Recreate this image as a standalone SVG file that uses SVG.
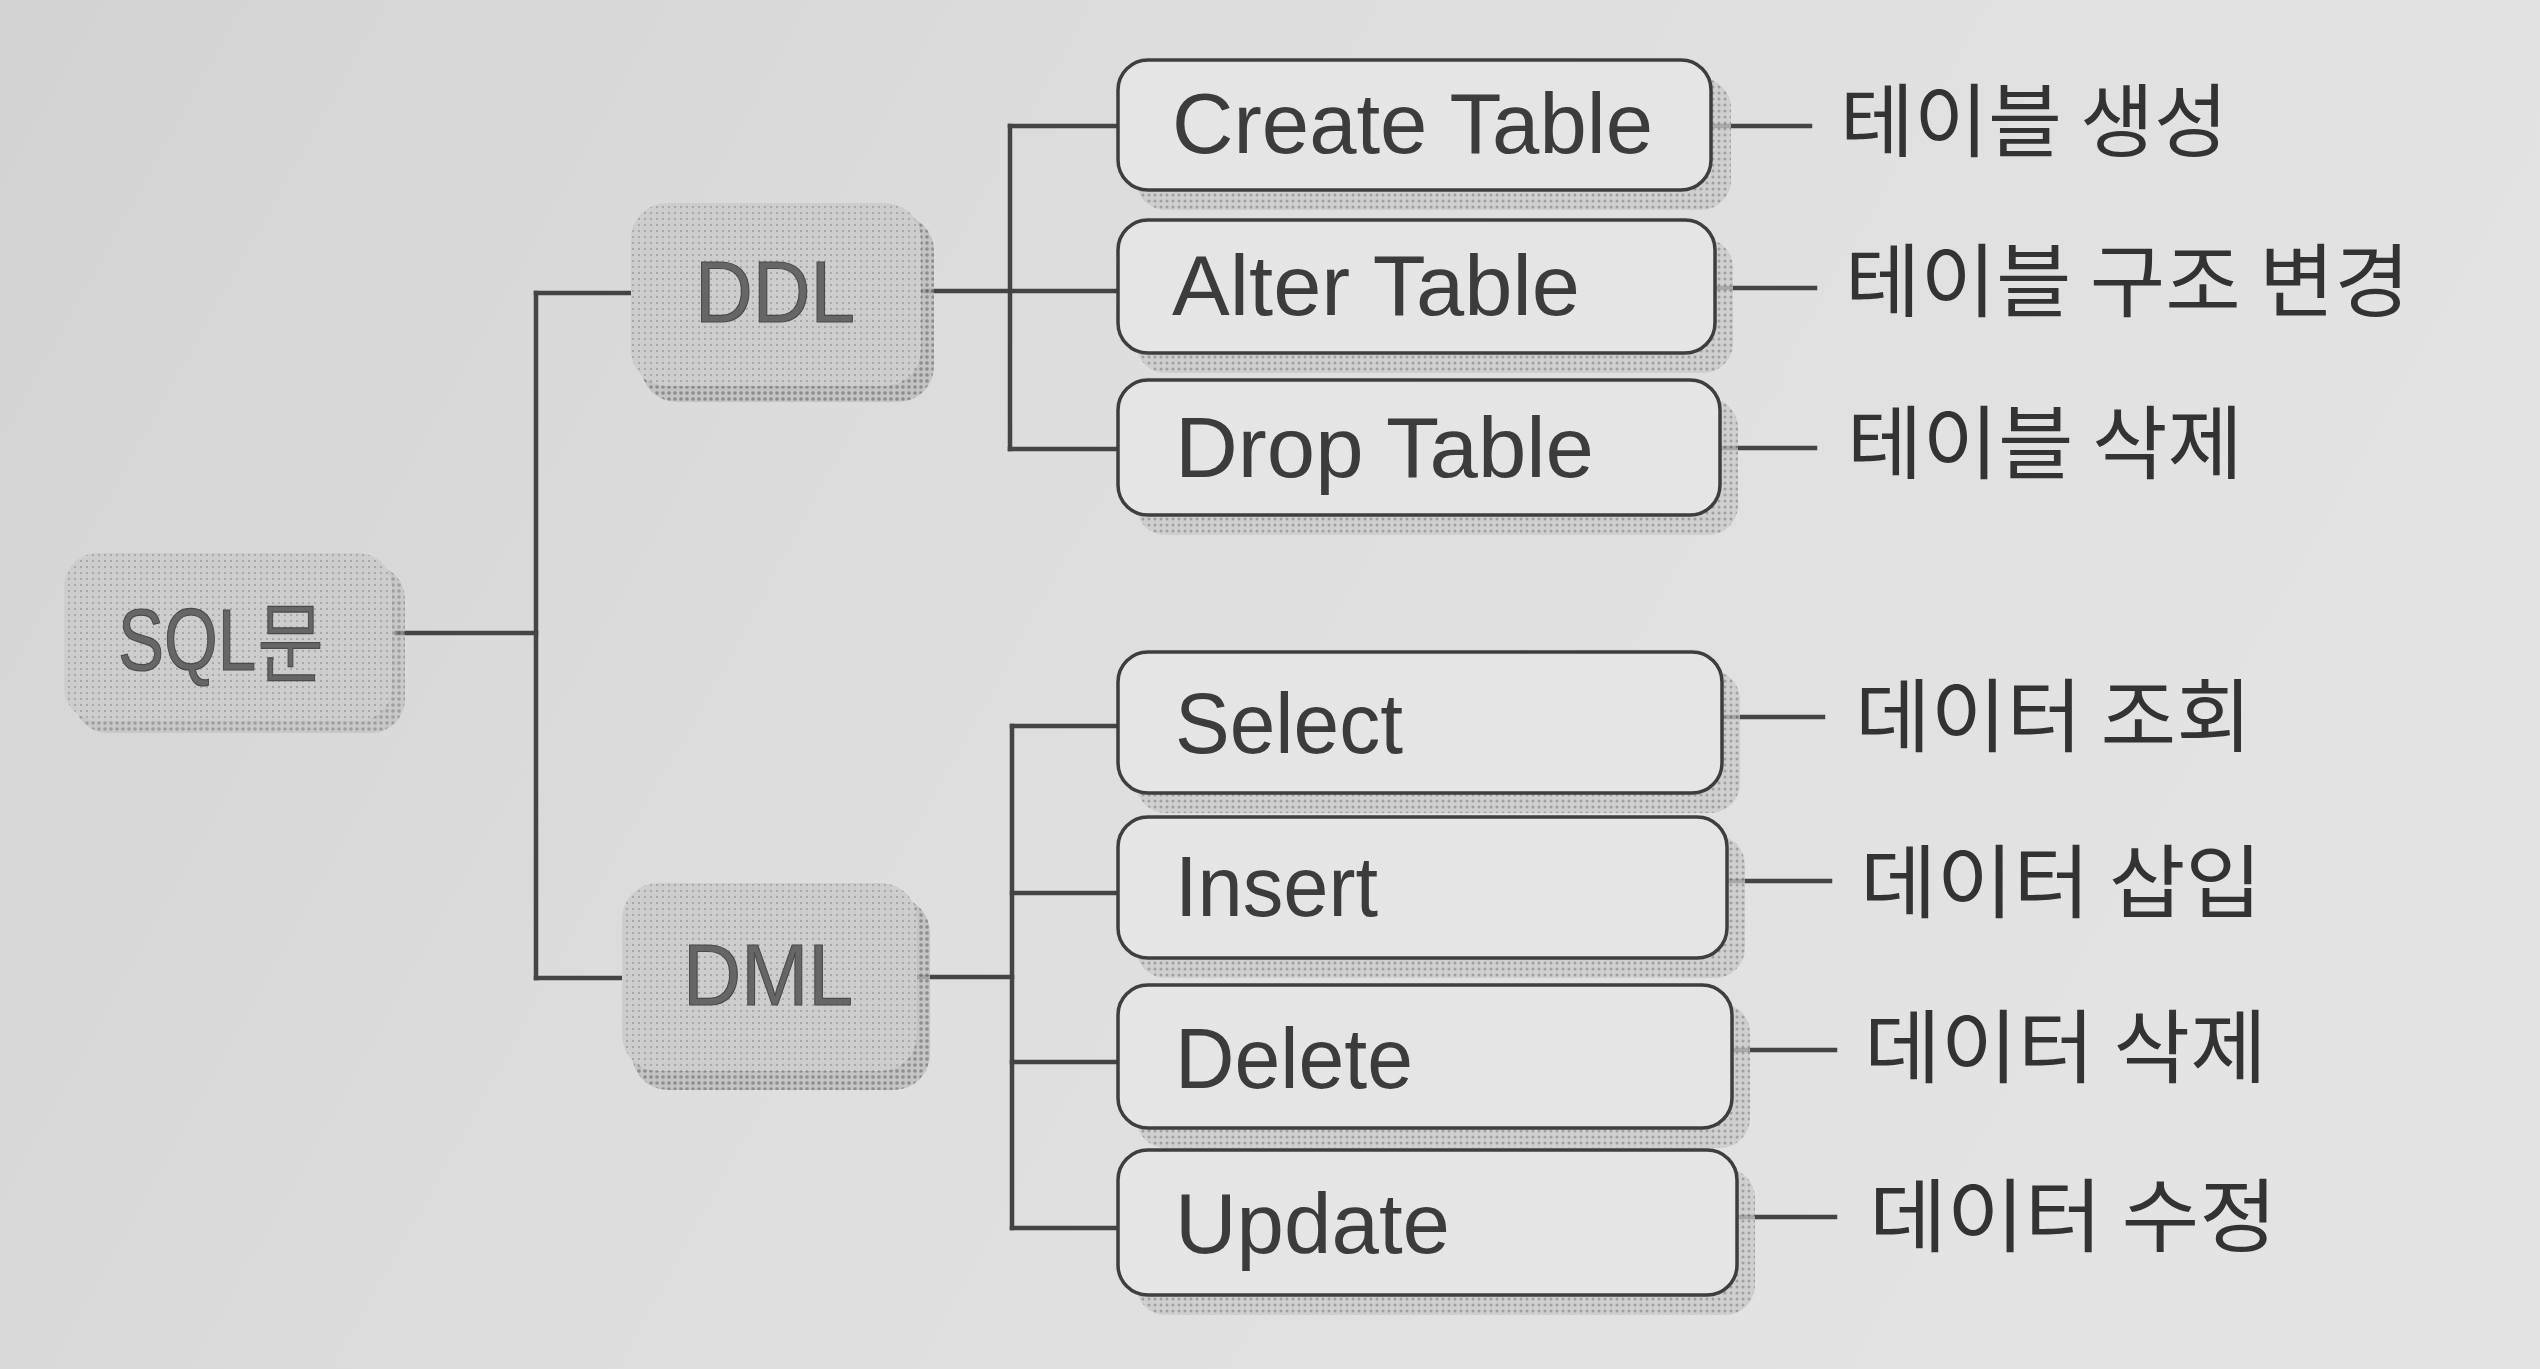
<svg xmlns="http://www.w3.org/2000/svg" width="2540" height="1369" viewBox="0 0 2540 1369">
<defs>
<linearGradient id="bg" x1="0" y1="0" x2="1" y2="0.3">
<stop offset="0" stop-color="#d3d3d3"/>
<stop offset="0.5" stop-color="#dedede"/>
<stop offset="1" stop-color="#e3e3e3"/>
</linearGradient>
<pattern id="dots" width="6" height="6" patternUnits="userSpaceOnUse">
<rect width="6" height="6" fill="#c9c9c9"/>
<circle cx="3" cy="3" r="1.5" fill="#8a8a8a"/>
</pattern>
<pattern id="dotsLight" width="6" height="6" patternUnits="userSpaceOnUse">
<rect width="6" height="6" fill="#cdcdcd"/>
<circle cx="3" cy="3" r="1.1" fill="#a0a0a0"/>
</pattern>
<pattern id="dotsDark" width="6" height="6" patternUnits="userSpaceOnUse">
<rect width="6" height="6" fill="#bdbdbd"/>
<circle cx="3" cy="3" r="1.8" fill="#777"/>
</pattern>
</defs>
<style>
.leaf{fill:#e5e5e5;stroke:#3e3e3e;stroke-width:3.5}
.shadow{fill:url(#dots);opacity:0.75}
.main{fill:url(#dotsLight)}
.mainsh{fill:url(#dotsDark)}
.ltxt{font-family:"Liberation Sans",Arial,sans-serif;font-size:85px;fill:#3c3c3c}
.mtxt{font-family:"Liberation Sans",Arial,sans-serif;font-size:88px;fill:#666;stroke:#4a4a4a;stroke-width:1.2}
.ktxt{font-family:"Noto Sans CJK KR","Noto Sans",sans-serif;font-size:80px;fill:#333}
.conn line{stroke:#444;stroke-width:4.5;stroke-linecap:square}
</style>
<rect width="2540" height="1369" fill="url(#bg)"/>

<g class="conn" id="connectors">
<line x1="397" y1="633" x2="536" y2="633"/>
<line x1="536" y1="293" x2="536" y2="978"/>
<line x1="536" y1="293" x2="631" y2="293"/>
<line x1="536" y1="978" x2="622" y2="978"/>
<line x1="921" y1="291" x2="1118" y2="291"/>
<line x1="1010" y1="126" x2="1010" y2="449"/>
<line x1="1010" y1="126" x2="1118" y2="126"/>
<line x1="1010" y1="449" x2="1118" y2="449"/>
<line x1="917" y1="977" x2="1012" y2="977"/>
<line x1="1012" y1="726" x2="1012" y2="1228"/>
<line x1="1012" y1="726" x2="1118" y2="726"/>
<line x1="1012" y1="893" x2="1118" y2="893"/>
<line x1="1012" y1="1062" x2="1118" y2="1062"/>
<line x1="1012" y1="1228" x2="1118" y2="1228"/>
<line x1="1712" y1="126" x2="1810" y2="126"/>
<line x1="1717" y1="288" x2="1815" y2="288"/>
<line x1="1722" y1="448" x2="1815" y2="448"/>
<line x1="1722" y1="717" x2="1823" y2="717"/>
<line x1="1727" y1="881" x2="1830" y2="881"/>
<line x1="1732" y1="1050" x2="1835" y2="1050"/>
<line x1="1737" y1="1217" x2="1835" y2="1217"/>
</g>

<g id="node-sql">
<rect class="mainsh" x="74" y="565" width="331" height="168" rx="34" opacity="0.6"/>
<rect class="main" x="64" y="553" width="328" height="168" rx="34"/>
<text class="mtxt" x="118" y="670" textLength="207" lengthAdjust="spacingAndGlyphs" font-size="90">SQL문</text>
</g>

<g id="node-ddl">
<rect class="mainsh" x="641" y="215" width="293" height="187" rx="36" opacity="0.8"/>
<rect class="main" x="631" y="203" width="290" height="183" rx="36"/>
<text class="mtxt" x="695" y="322" textLength="160" lengthAdjust="spacingAndGlyphs">DDL</text>
</g>

<g id="node-dml">
<rect class="mainsh" x="632" y="897" width="298" height="193" rx="36" opacity="0.8"/>
<rect class="main" x="622" y="883" width="295" height="188" rx="36"/>
<text class="mtxt" x="683" y="1005" textLength="170" lengthAdjust="spacingAndGlyphs">DML</text>
</g>

<g id="node-create">
<rect class="shadow" x="1136" y="78" width="595" height="132" rx="30"/>
<rect class="leaf" x="1118" y="60" width="593" height="130" rx="30"/>
<text class="ltxt" x="1172" y="153" textLength="481" lengthAdjust="spacingAndGlyphs" fill="#555">Create Table</text>
</g>
<g id="label-create"><text class="ktxt" x="1840" y="150" textLength="388" lengthAdjust="spacingAndGlyphs">테이블 생성</text></g>

<g id="node-alter">
<rect class="shadow" x="1136" y="238" width="597" height="135" rx="30"/>
<rect class="leaf" x="1118" y="220" width="597" height="133" rx="30"/>
<text class="ltxt" x="1172" y="315" textLength="408" lengthAdjust="spacingAndGlyphs" fill="#4a4a4a">Alter Table</text>
</g>
<g id="label-alter"><text class="ktxt" x="1845" y="310" textLength="565" lengthAdjust="spacingAndGlyphs">테이블 구조 변경</text></g>

<g id="node-drop">
<rect class="shadow" x="1136" y="398" width="602" height="137" rx="30"/>
<rect class="leaf" x="1118" y="380" width="602" height="135" rx="30"/>
<text class="ltxt" x="1175" y="477" textLength="419" lengthAdjust="spacingAndGlyphs">Drop Table</text>
</g>
<g id="label-drop"><text class="ktxt" x="1847" y="472" textLength="396" lengthAdjust="spacingAndGlyphs">테이블 삭제</text></g>

<g id="node-select">
<rect class="shadow" x="1136" y="670" width="604" height="143" rx="30"/>
<rect class="leaf" x="1118" y="652" width="604" height="141" rx="30"/>
<text class="ltxt" x="1175" y="753" textLength="228" lengthAdjust="spacingAndGlyphs">Select</text>
</g>
<g id="label-select"><text class="ktxt" x="1855" y="745" textLength="397" lengthAdjust="spacingAndGlyphs">데이터 조회</text></g>

<g id="node-insert">
<rect class="shadow" x="1136" y="835" width="609" height="143" rx="30"/>
<rect class="leaf" x="1118" y="817" width="609" height="141" rx="30"/>
<text class="ltxt" x="1175" y="916" textLength="203" lengthAdjust="spacingAndGlyphs">Insert</text>
</g>
<g id="label-insert"><text class="ktxt" x="1860" y="911" textLength="402" lengthAdjust="spacingAndGlyphs">데이터 삽입</text></g>

<g id="node-delete">
<rect class="shadow" x="1136" y="1003" width="614" height="145" rx="30"/>
<rect class="leaf" x="1118" y="985" width="614" height="143" rx="30"/>
<text class="ltxt" x="1175" y="1088" textLength="238" lengthAdjust="spacingAndGlyphs">Delete</text>
</g>
<g id="label-delete"><text class="ktxt" x="1864" y="1076" textLength="403" lengthAdjust="spacingAndGlyphs">데이터 삭제</text></g>

<g id="node-update">
<rect class="shadow" x="1136" y="1168" width="619" height="147" rx="30"/>
<rect class="leaf" x="1118" y="1150" width="619" height="145" rx="30"/>
<text class="ltxt" x="1175" y="1253" textLength="275" lengthAdjust="spacingAndGlyphs">Update</text>
</g>
<g id="label-update"><text class="ktxt" x="1869" y="1245" textLength="408" lengthAdjust="spacingAndGlyphs">데이터 수정</text></g>
</svg>
